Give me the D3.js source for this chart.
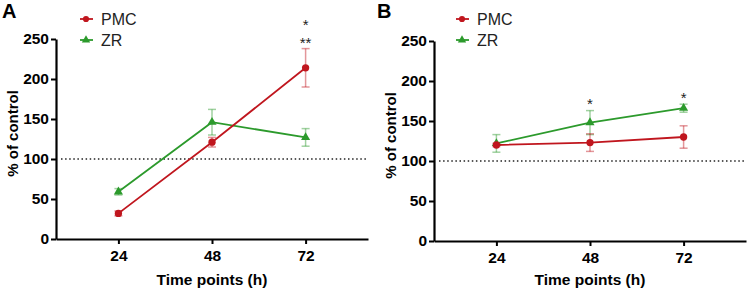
<!DOCTYPE html>
<html>
<head>
<meta charset="utf-8">
<script src="https://cdn.jsdelivr.net/npm/d3@7"></script>
<style>
  body { margin: 0; background: #fff; }
  svg { display: block; font-family: Arial, "Liberation Sans", sans-serif; }
</style>
</head>
<body>
<div id="chart"></div>
<script>
// time points and tick labels
const timePoints = [24, 48, 72];
const yTicks = [0, 50, 100, 150, 200, 250];

// panel A values (% of control) and SEM
const pmcA = [32, 121, 214];
const pmcAErr = [3, 6, 24];
const zrA = [59, 146, 127];
const zrAErr = [4, 16, 11];
const starsA = [{ t: 72, v: 269, txt: "*" }, { t: 72, v: 246, txt: "**" }];

// panel B values (% of control) and SEM
const pmcB = [120, 123, 130];
const pmcBErr = [2, 11, 14];
const zrB = [122, 148, 166];
const zrBErr = [11, 15, 5];
const starsB = [{ t: 48, v: 173, txt: "*" }, { t: 72, v: 180, txt: "*" }];

const red = "#c0161e";
const green = "#2c9a2c";

const svg = d3.select("#chart").append("svg")
  .attr("width", 749)
  .attr("height", 293);

function panel(opts) {
  const x = d3.scaleLinear().domain([8, 88]).range([opts.left, opts.right]);
  const y = d3.scaleLinear().domain([0, 250]).range([opts.bottom, opts.top]);
  const g = svg.append("g");

  // panel letter
  g.append("text")
    .attr("x", opts.letterX).attr("y", 18)
    .attr("font-size", 20).attr("font-weight", "bold")
    .text(opts.letter);

  // reference line at 100%
  g.append("line")
    .attr("x1", x(8) + 5).attr("x2", x(88) - 2)
    .attr("y1", y(100)).attr("y2", y(100))
    .attr("stroke", "#222").attr("stroke-width", 1.6)
    .attr("stroke-dasharray", "1.5,2.6");

  // axes
  const yAxis = g.append("g")
    .attr("transform", `translate(${opts.left},0)`)
    .call(d3.axisLeft(y).tickValues(yTicks).tickSize(5).tickSizeOuter(0));
  const xAxis = g.append("g")
    .attr("transform", `translate(0,${opts.bottom})`)
    .call(d3.axisBottom(x).tickValues(timePoints).tickSize(5).tickSizeOuter(0));
  [yAxis, xAxis].forEach(a => {
    a.select(".domain").attr("stroke", "#000").attr("stroke-width", 2.2);
    a.selectAll(".tick line").attr("stroke", "#000").attr("stroke-width", 2);
    a.selectAll(".tick text")
      .attr("font-size", 15.5).attr("font-weight", "bold")
      .attr("font-family", "Arial, 'Liberation Sans', sans-serif").attr("fill", "#000");
  });
  yAxis.selectAll(".tick text").attr("x", -7);
  xAxis.selectAll(".tick text").attr("y", 11);

  // axis titles
  g.append("text")
    .attr("x", (opts.left + opts.right) / 2).attr("y", 285)
    .attr("text-anchor", "middle")
    .attr("font-size", 15.5).attr("font-weight", "bold")
    .text("Time points (h)");
  g.append("text")
    .attr("transform", `translate(${opts.left - 38},${y(132)}) rotate(-90)`)
    .attr("text-anchor", "middle")
    .attr("font-size", 15).attr("font-weight", "bold")
    .text("% of control");

  const series = [
    { name: "ZR", vals: opts.zr, err: opts.zrErr, color: green, shape: d3.symbolTriangle },
    { name: "PMC", vals: opts.pmc, err: opts.pmcErr, color: red, shape: d3.symbolCircle }
  ];

  series.forEach(s => {
    const pts = timePoints.map((t, i) => ({ t: t, v: s.vals[i], e: s.err[i] }));
    const eb = g.append("g").attr("stroke", s.color).attr("stroke-opacity", 0.45).attr("stroke-width", 1.5);
    pts.forEach(p => {
      eb.append("line").attr("x1", x(p.t)).attr("x2", x(p.t))
        .attr("y1", y(p.v - p.e)).attr("y2", y(p.v + p.e));
      [p.v - p.e, p.v + p.e].forEach(v => {
        eb.append("line").attr("x1", x(p.t) - 4).attr("x2", x(p.t) + 4)
          .attr("y1", y(v)).attr("y2", y(v));
      });
    });
    g.append("path")
      .datum(pts)
      .attr("fill", "none").attr("stroke", s.color).attr("stroke-width", 1.8)
      .attr("d", d3.line().x(d => x(d.t)).y(d => y(d.v)));
    g.selectAll(null).data(pts).join("path")
      .attr("transform", d => `translate(${x(d.t)},${y(d.v)})`)
      .attr("d", d3.symbol().type(s.shape).size(s.name === "ZR" ? 36 : 42))
      .attr("fill", s.color);
  });

  // significance stars
  g.selectAll(null).data(opts.stars).join("text")
    .attr("x", d => x(d.t)).attr("y", d => y(d.v) + 6)
    .attr("text-anchor", "middle")
    .attr("font-size", 15).attr("fill", "#222")
    .text(d => d.txt);

  // legend
  const legend = g.selectAll(null)
    .data([{ name: "PMC", color: red, shape: d3.symbolCircle }, { name: "ZR", color: green, shape: d3.symbolTriangle }])
    .join("g")
    .attr("transform", (d, i) => `translate(${opts.legendX},${19 + i * 21})`);
  legend.append("line").attr("x1", -6).attr("x2", 7)
    .attr("stroke", d => d.color).attr("stroke-width", 1.8);
  legend.append("path")
    .attr("d", d => d3.symbol().type(d.shape).size(30)())
    .attr("fill", d => d.color);
  legend.append("text")
    .attr("x", 15).attr("dy", "0.36em")
    .attr("font-size", 16).attr("fill", "#222")
    .text(d => d.name);
}

panel({ letter: "A", letterX: 2, left: 56, right: 368, top: 39, bottom: 239, legendX: 86,
  pmc: pmcA, pmcErr: pmcAErr, zr: zrA, zrErr: zrAErr, stars: starsA });
panel({ letter: "B", letterX: 377, left: 434, right: 746, top: 41, bottom: 241, legendX: 462,
  pmc: pmcB, pmcErr: pmcBErr, zr: zrB, zrErr: zrBErr, stars: starsB });
</script>
</body>
</html>
